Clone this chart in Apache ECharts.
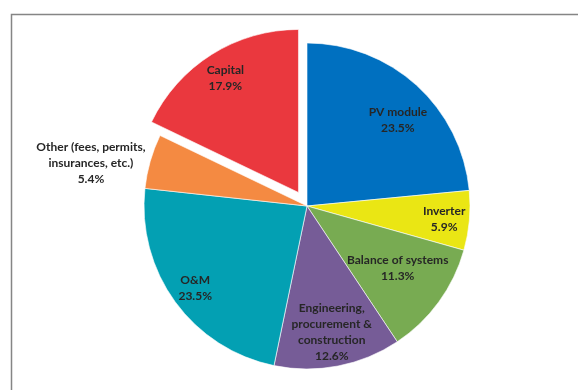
<!DOCTYPE html>
<html>
<head>
<meta charset="utf-8">
<script src="https://cdn.jsdelivr.net/npm/echarts@6/dist/echarts.min.js"></script>
<style>
  html, body { margin: 0; padding: 0; background: #fff; }
  #chart { width: 578px; height: 390px; }
</style>
</head>
<body>
<div id="chart"></div>
<script>
// Cost breakdown shares (%), clockwise from 12 o'clock
const categories = [
  'PV module',
  'Inverter',
  'Balance of systems',
  'Engineering,\nprocurement &\nconstruction',
  'O&M',
  'Other (fees, permits,\ninsurances, etc.)',
  'Capital'
];
const shares = [23.5, 5.9, 11.3, 12.6, 23.5, 5.4, 17.9];
const colors = ['#0070C0', '#EAE614', '#78AB52', '#765C97', '#03A0B3', '#F48A42', '#EA383E'];
const explodedSlice = 'Capital';

// Label placement: fraction of the radius along the slice's mid-angle, plus a small pixel nudge
const labelRadiusFrac = [0.765, 0.845, 0.70, 0.78, 0.845, 1.36, 0.835];
const labelNudge = [[5, 9], [-3, 1], [-4, -7], [0, -2], [2, -1], [0, 19], [1, 3]];

const CX = 307, CY = 206, R = 163;

const total = shares.reduce((a, b) => a + b, 0);
const midAngles = [];
let acc = 0;
shares.forEach(v => {
  midAngles.push((acc + v / 2) / total * 2 * Math.PI);
  acc += v;
});

const chart = echarts.init(document.getElementById('chart'), null, { renderer: 'canvas' });

chart.setOption({
  animation: false,
  graphic: [{
    type: 'rect',
    left: 9, top: 12,
    shape: { width: 620, height: 420 },
    style: { fill: 'none', stroke: '#858585', lineWidth: 1.5 },
    silent: true
  }],
  series: [{
    type: 'pie',
    center: [CX, CY],
    radius: [0, R],
    startAngle: 90,
    clockwise: true,
    selectedMode: 'single',
    selectedOffset: 16,
    silent: true,
    avoidLabelOverlap: false,
    emphasis: { disabled: true, scale: false },
    itemStyle: { borderColor: '#ffffff', borderWidth: 0.6 },
    select: { itemStyle: { borderColor: '#ffffff', borderWidth: 0.6 } },
    label: {
      show: true,
      position: 'inside',
      color: '#262626',
      fontFamily: 'Lato',
      fontWeight: 'bold',
      fontSize: 12,
      lineHeight: 16,
      align: 'center',
      formatter: p => p.name + '\n' + shares[p.dataIndex].toFixed(1) + '%'
    },
    labelLine: { show: false },
    labelLayout: function (params) {
      const i = params.dataIndex;
      const shift = (labelRadiusFrac[i] - 0.5) * R;
      const a = midAngles[i];
      return {
        dx: shift * Math.sin(a) + labelNudge[i][0],
        dy: -shift * Math.cos(a) + labelNudge[i][1]
      };
    },
    data: categories.map((name, i) => ({
      name: name,
      value: shares[i],
      selected: name === explodedSlice,
      itemStyle: { color: colors[i] }
    }))
  }]
});
</script>
</body>
</html>
